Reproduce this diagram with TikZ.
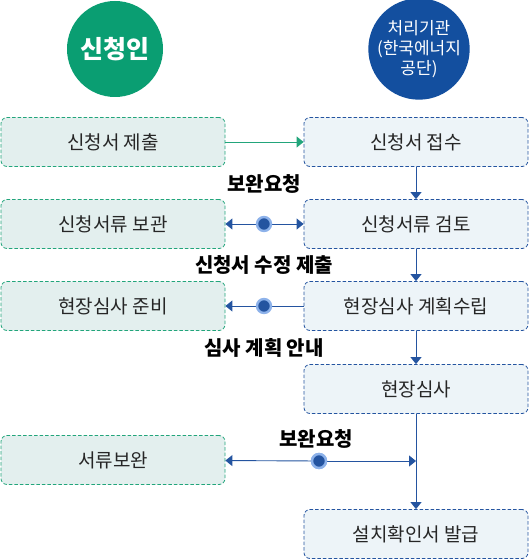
\documentclass[tikz,border=0pt]{standalone}
\usepackage{fontspec}
\setmainfont{Noto Sans CJK KR}
\usepackage{tikz}
\usetikzlibrary{arrows.meta}
\definecolor{appgreen}{HTML}{0A9E72}
\definecolor{agblue}{HTML}{134F9F}
\definecolor{lgreen}{HTML}{22A57B}
\definecolor{lfill}{HTML}{E3EFEE}
\definecolor{rblue}{HTML}{2454A0}
\definecolor{rfill}{HTML}{EDF4F8}
\definecolor{halo}{HTML}{8DB2EA}

\begin{document}
\begin{tikzpicture}[x=1pt,y=-1pt,
  party/.style={circle, minimum size=96pt, inner sep=0pt, text=white, align=center},
  lbox/.style={draw=lgreen, fill=lfill, line width=0.8pt, dash pattern=on 3.5pt off 2pt,
    rounded corners=6pt, minimum width=224pt, minimum height=49pt, text=black!85,
    font=\fontsize{19}{22}\selectfont},
  rbox/.style={lbox, draw=rblue, fill=rfill},
  lbl/.style={font=\fontsize{20}{23}\selectfont\bfseries},
  hub/.style={circle, fill=rblue, draw=halo, line width=2.4pt, minimum size=14pt, inner sep=0pt},
  garrow/.style={draw=lgreen, line width=0.9pt, -{Triangle[length=7pt,width=11pt]}},
  barrow/.style={draw=rblue, line width=0.9pt, -{Triangle[length=7pt,width=11pt]}}]
\useasboundingbox (0,0) rectangle (530,559);

% top circles
\node[party, fill=appgreen, font=\fontsize{25}{28}\selectfont\bfseries] (applicant) at (115,49) {신청인};
\node[party, fill=agblue, font=\fontsize{17}{20}\selectfont] (agency) at (419,49) {처리기관\\(한국에너지\\공단)};

% boxes
\node[lbox] (submit) at (113,142) {신청서 제출};
\node[rbox] (receive) at (416,142) {신청서 접수};
\node[lbox] (keep) at (113,224) {신청서류 보관};
\node[rbox] (review) at (416,224) {신청서류 검토};
\node[lbox] (prepare) at (113,306) {현장심사 준비};
\node[rbox] (plan) at (416,306) {현장심사 계획수립};
\node[rbox] (visit) at (416,389) {현장심사};
\node[lbox] (supplement) at (113,460) {서류보완};
\node[rbox] (issue) at (416,534) {설치확인서 발급};

% connectors
\draw[garrow] (submit) -- (receive);
\draw[barrow] (receive) -- (review);
\draw[barrow] (review) -- (plan);
\draw[barrow] (plan) -- (visit);
\draw[barrow] (visit) -- (issue);
\draw[barrow, {Triangle[length=7pt,width=11pt]}-{Triangle[length=7pt,width=11pt]}] (keep) -- (review);
\draw[barrow] (plan) -- (prepare);

\coordinate (join) at (416,461);
\node[hub] (h1) at (264,224) {};
\node[hub] (h2) at (264,306) {};
\node[hub] (h3) at (319,461) {};
\draw[barrow] (h3) -- (supplement);
\draw[barrow] (h3) -- (join);
\node[hub] at (h3) {};

% labels
\node[lbl] (req1) at (264,184) {보완요청};
\node[lbl] (resub) at (264,265) {신청서 수정 제출};
\node[lbl] (notice) at (264,348) {심사 계획 안내};
\node[lbl] (req2) at (316,439) {보완요청};
\end{tikzpicture}
\end{document}
